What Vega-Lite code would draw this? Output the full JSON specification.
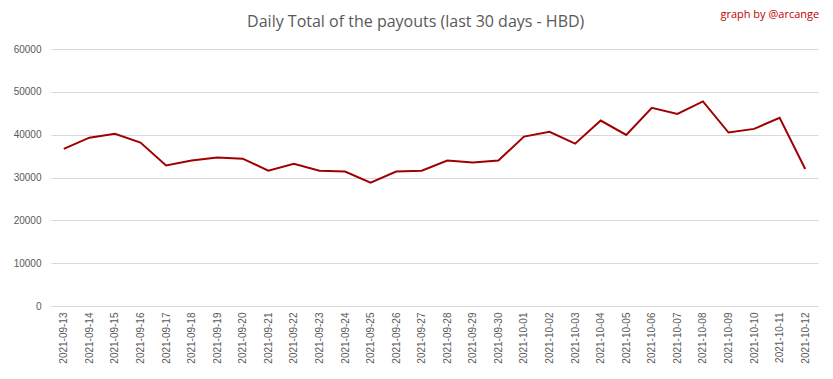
{
  "$schema": "https://vega.github.io/schema/vega-lite/v6.json",
  "autosize": "none",
  "width": 767,
  "height": 257,
  "padding": {"left": 51, "top": 49, "right": 15, "bottom": 73},
  "background": "white",
  "config": {
    "view": {"stroke": null},
    "font": "Liberation Sans"
  },
  "data": {
    "values": [
      {"date": "2021-09-13", "hbd": 36700},
      {"date": "2021-09-14", "hbd": 39300},
      {"date": "2021-09-15", "hbd": 40200},
      {"date": "2021-09-16", "hbd": 38150},
      {"date": "2021-09-17", "hbd": 32800},
      {"date": "2021-09-18", "hbd": 33950},
      {"date": "2021-09-19", "hbd": 34650},
      {"date": "2021-09-20", "hbd": 34400},
      {"date": "2021-09-21", "hbd": 31600},
      {"date": "2021-09-22", "hbd": 33200},
      {"date": "2021-09-23", "hbd": 31600},
      {"date": "2021-09-24", "hbd": 31400},
      {"date": "2021-09-25", "hbd": 28800},
      {"date": "2021-09-26", "hbd": 31400},
      {"date": "2021-09-27", "hbd": 31600},
      {"date": "2021-09-28", "hbd": 33950},
      {"date": "2021-09-29", "hbd": 33500},
      {"date": "2021-09-30", "hbd": 33950},
      {"date": "2021-10-01", "hbd": 39550},
      {"date": "2021-10-02", "hbd": 40650},
      {"date": "2021-10-03", "hbd": 37900},
      {"date": "2021-10-04", "hbd": 43300},
      {"date": "2021-10-05", "hbd": 39950},
      {"date": "2021-10-06", "hbd": 46250},
      {"date": "2021-10-07", "hbd": 44850},
      {"date": "2021-10-08", "hbd": 47750},
      {"date": "2021-10-09", "hbd": 40500},
      {"date": "2021-10-10", "hbd": 41350},
      {"date": "2021-10-11", "hbd": 43950},
      {"date": "2021-10-12", "hbd": 32000}
    ]
  },
  "encoding": {
    "x": {
      "field": "date",
      "type": "ordinal",
      "scale": {"type": "point", "padding": 0.5},
      "axis": {
        "title": null,
        "labelAngle": -90,
        "labelColor": "#595959",
        "labelFont": "Liberation Sans",
        "labelFontSize": 10,
        "labelPadding": 6,
        "ticks": false,
        "domainColor": "#d9d9d9",
        "grid": false
      }
    }
  },
  "layer": [
    {
      "mark": {"type": "line", "color": "#a00000", "strokeWidth": 2},
      "encoding": {
        "y": {
          "field": "hbd",
          "type": "quantitative",
          "scale": {"domain": [0, 60000], "nice": false},
          "axis": {
            "title": null,
            "values": [0, 10000, 20000, 30000, 40000, 50000, 60000],
            "format": "d",
            "labelColor": "#595959",
            "labelFont": "Liberation Sans",
            "labelFontSize": 10,
            "labelPadding": 10,
            "ticks": false,
            "domain": false,
            "gridColor": "#d9d9d9",
            "gridWidth": 1
          }
        }
      }
    },
    {
      "data": {"values": [{"label": "graph by @arcange"}]},
      "mark": {"type": "text", "color": "#c00000", "font": "Open Sans", "fontSize": 11, "align": "right", "baseline": "middle", "dx": 14, "clip": false},
      "encoding": {
        "text": {"field": "label"},
        "x": {"datum": "2021-10-12"},
        "y": {"datum": 68000, "type": "quantitative"}
      }
    },
    {
      "data": {"values": [{"label": "Daily Total of the payouts (last 30 days - HBD)"}]},
      "mark": {"type": "text", "color": "#595959", "font": "Open Sans", "fontSize": 16, "align": "center", "baseline": "middle", "dx": -6, "clip": false},
      "encoding": {
        "text": {"field": "label"},
        "x": {"datum": "2021-09-27"},
        "y": {"datum": 66300, "type": "quantitative"}
      }
    }
  ]
}
